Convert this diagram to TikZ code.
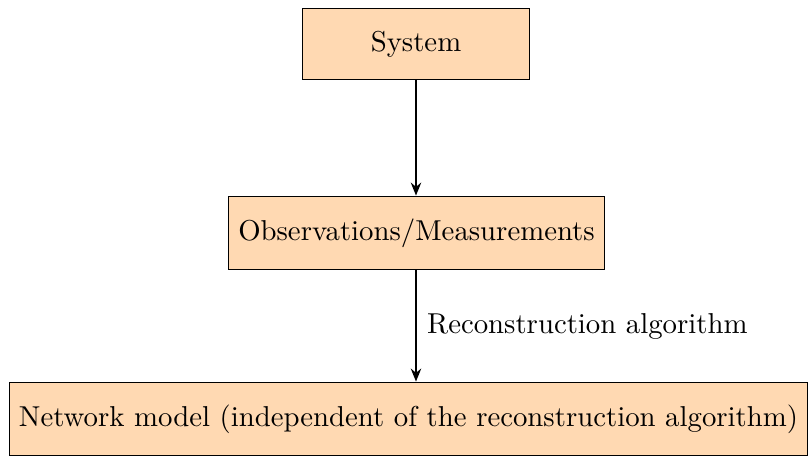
\documentclass[tikz,border=0pt]{standalone}
\usetikzlibrary{arrows.meta}
\begin{document}
\begin{tikzpicture}[x=0.3475pt,y=0.3475pt,
  block/.style={draw=black, line width=0.4pt, fill=orange!30, minimum height=25.6pt, inner xsep=3.3pt, font=\normalsize},
  flow/.style={-{Stealth[length=4.5pt,width=3.6pt]}, line width=0.7pt}]
  \useasboundingbox (0,0) rectangle (810,-459);
  \node[block, minimum width=79pt, minimum height=24.9pt] (sys) at (416,-44) {System};
  \node[block] (obs) at (416.5,-233) {Observations/Measurements};
  \node[block] (net) at (408.5,-419) {Network model (independent of the reconstruction algorithm)};
  \draw[flow] (sys.south -| 416,0) -- (obs.north -| 416,0);
  \draw[flow] (obs.south -| 416,0) -- node[right, inner sep=3.5pt] {Reconstruction algorithm} (net.north -| 416,0);
\end{tikzpicture}
\end{document}
